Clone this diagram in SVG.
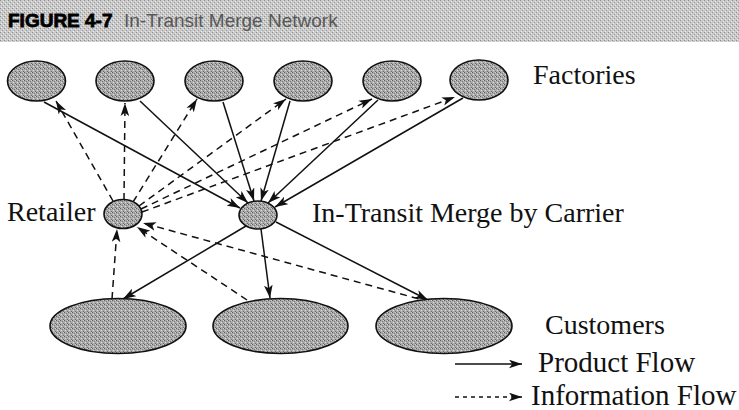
<svg xmlns="http://www.w3.org/2000/svg" width="739" height="410" viewBox="0 0 739 410">
  <style>
    .node { fill: url(#grain); stroke: #111; stroke-width: 1.6; }
    .label { font-family: "Liberation Serif", "Times New Roman", serif; font-size: 28px; fill: #111; }
    .key { font-size: 29px; }
    .product { fill: none; stroke: #111; stroke-width: 1.5; marker-end: url(#head); }
    .info { fill: none; stroke: #111; stroke-width: 1.5; stroke-dasharray: 7 5; marker-end: url(#head); }
  </style>
  <defs>
    <!-- halftone-like speckle used for node fills -->
    <pattern id="grain" width="4" height="4" patternUnits="userSpaceOnUse">
      <rect width="4" height="4" fill="#acacac"/>
      <rect x="0" y="0" width="1" height="1" fill="#5e5e5e"/>
      <rect x="2" y="1" width="1" height="1" fill="#7a7a7a"/>
      <rect x="1" y="2" width="1" height="1" fill="#dcdcdc"/>
      <rect x="3" y="3" width="1" height="1" fill="#686868"/>
      <rect x="3" y="0" width="1" height="1" fill="#d0d0d0"/>
    </pattern>
    <!-- lighter speckle for the caption band -->
    <pattern id="band" width="4" height="4" patternUnits="userSpaceOnUse">
      <rect width="4" height="4" fill="#c9c9c9"/>
      <rect x="0" y="0" width="1" height="1" fill="#8e8e8e"/>
      <rect x="2" y="2" width="1" height="1" fill="#9a9a9a"/>
      <rect x="1" y="3" width="1" height="1" fill="#eeeeee"/>
      <rect x="3" y="1" width="1" height="1" fill="#e6e6e6"/>
    </pattern>
    <marker id="head" viewBox="0 0 12 8" refX="12" refY="4" markerWidth="13" markerHeight="9" orient="auto" markerUnits="userSpaceOnUse">
      <path d="M0,0 L12,4 L0,8 L3,4 z" fill="#111"/>
    </marker>
  </defs>

  <!-- caption band -->
  <g id="caption">
    <rect x="0" y="0" width="739" height="42" fill="url(#band)"/>
    <text x="8" y="27" font-family="'Liberation Sans', Arial, sans-serif" font-size="19" font-weight="bold" fill="#000" stroke="#000" stroke-width="0.8">FIGURE 4-7</text>
    <text x="124" y="27" font-family="'Liberation Sans', Arial, sans-serif" font-size="19" fill="#585858">In-Transit Merge Network</text>
  </g>

  <!-- connectors -->
  <g id="connectors">
    <!-- product flow: factories to carrier merge point -->
    <line class="product" x1="44" y1="102" x2="240" y2="208"/>
    <line class="product" x1="140" y1="101" x2="248" y2="203"/>
    <line class="product" x1="223" y1="102" x2="254" y2="201"/>
    <line class="product" x1="290" y1="101" x2="261" y2="201"/>
    <line class="product" x1="378" y1="100" x2="268" y2="203"/>
    <line class="product" x1="463" y1="98" x2="275" y2="207"/>
    <!-- product flow: merge point to customers -->
    <line class="product" x1="246" y1="226" x2="123" y2="299"/>
    <line class="product" x1="261" y1="229" x2="270" y2="298"/>
    <line class="product" x1="276" y1="222" x2="428" y2="300"/>
    <!-- information flow: retailer to factories -->
    <line class="info" x1="113" y1="201" x2="56" y2="101"/>
    <line class="info" x1="124" y1="200" x2="125" y2="103"/>
    <line class="info" x1="133" y1="202" x2="197" y2="99"/>
    <line class="info" x1="139" y1="206" x2="286" y2="99"/>
    <line class="info" x1="141" y1="209" x2="372" y2="99"/>
    <line class="info" x1="142" y1="212" x2="455" y2="97"/>
    <!-- information flow: customers to retailer -->
    <line class="info" x1="112" y1="299" x2="117" y2="229"/>
    <line class="info" x1="247" y1="300" x2="137" y2="227"/>
    <line class="info" x1="430" y1="302" x2="143" y2="223"/>
  </g>

  <!-- factories -->
  <g id="factory-1"><ellipse class="node" cx="36.5" cy="81" rx="29" ry="20"/></g>
  <g id="factory-2"><ellipse class="node" cx="125" cy="81" rx="29" ry="20"/></g>
  <g id="factory-3"><ellipse class="node" cx="214" cy="81" rx="29" ry="20"/></g>
  <g id="factory-4"><ellipse class="node" cx="303" cy="81" rx="29" ry="20"/></g>
  <g id="factory-5"><ellipse class="node" cx="392" cy="81" rx="29" ry="20"/></g>
  <g id="factory-6"><ellipse class="node" cx="479" cy="80" rx="29" ry="20"/></g>
  <g id="factories-label"><text class="label" x="533" y="84">Factories</text></g>

  <!-- retailer -->
  <g id="retailer">
    <ellipse class="node" cx="123" cy="214" rx="19" ry="14.5"/>
    <text class="label" x="7" y="221">Retailer</text>
  </g>

  <!-- in-transit merge point -->
  <g id="merge">
    <ellipse class="node" cx="258" cy="215" rx="19" ry="14"/>
    <text class="label" x="312" y="222">In-Transit Merge by Carrier</text>
  </g>

  <!-- customers -->
  <g id="customer-1"><ellipse class="node" cx="118" cy="326" rx="68" ry="27.5"/></g>
  <g id="customer-2"><ellipse class="node" cx="280.5" cy="326" rx="67.5" ry="27.5"/></g>
  <g id="customer-3"><ellipse class="node" cx="444" cy="326" rx="68" ry="27.5"/></g>
  <g id="customers-label"><text class="label" x="545" y="334">Customers</text></g>

  <!-- key -->
  <g id="legend">
    <line class="product" x1="455" y1="364" x2="522" y2="364"/>
    <text class="label key" x="538" y="372">Product Flow</text>
    <line x1="455" y1="397" x2="522" y2="397" stroke="#111" stroke-width="1.4" stroke-dasharray="4 4" marker-end="url(#head)"/>
    <text class="label key" x="531" y="405">Information Flow</text>
  </g>
</svg>
